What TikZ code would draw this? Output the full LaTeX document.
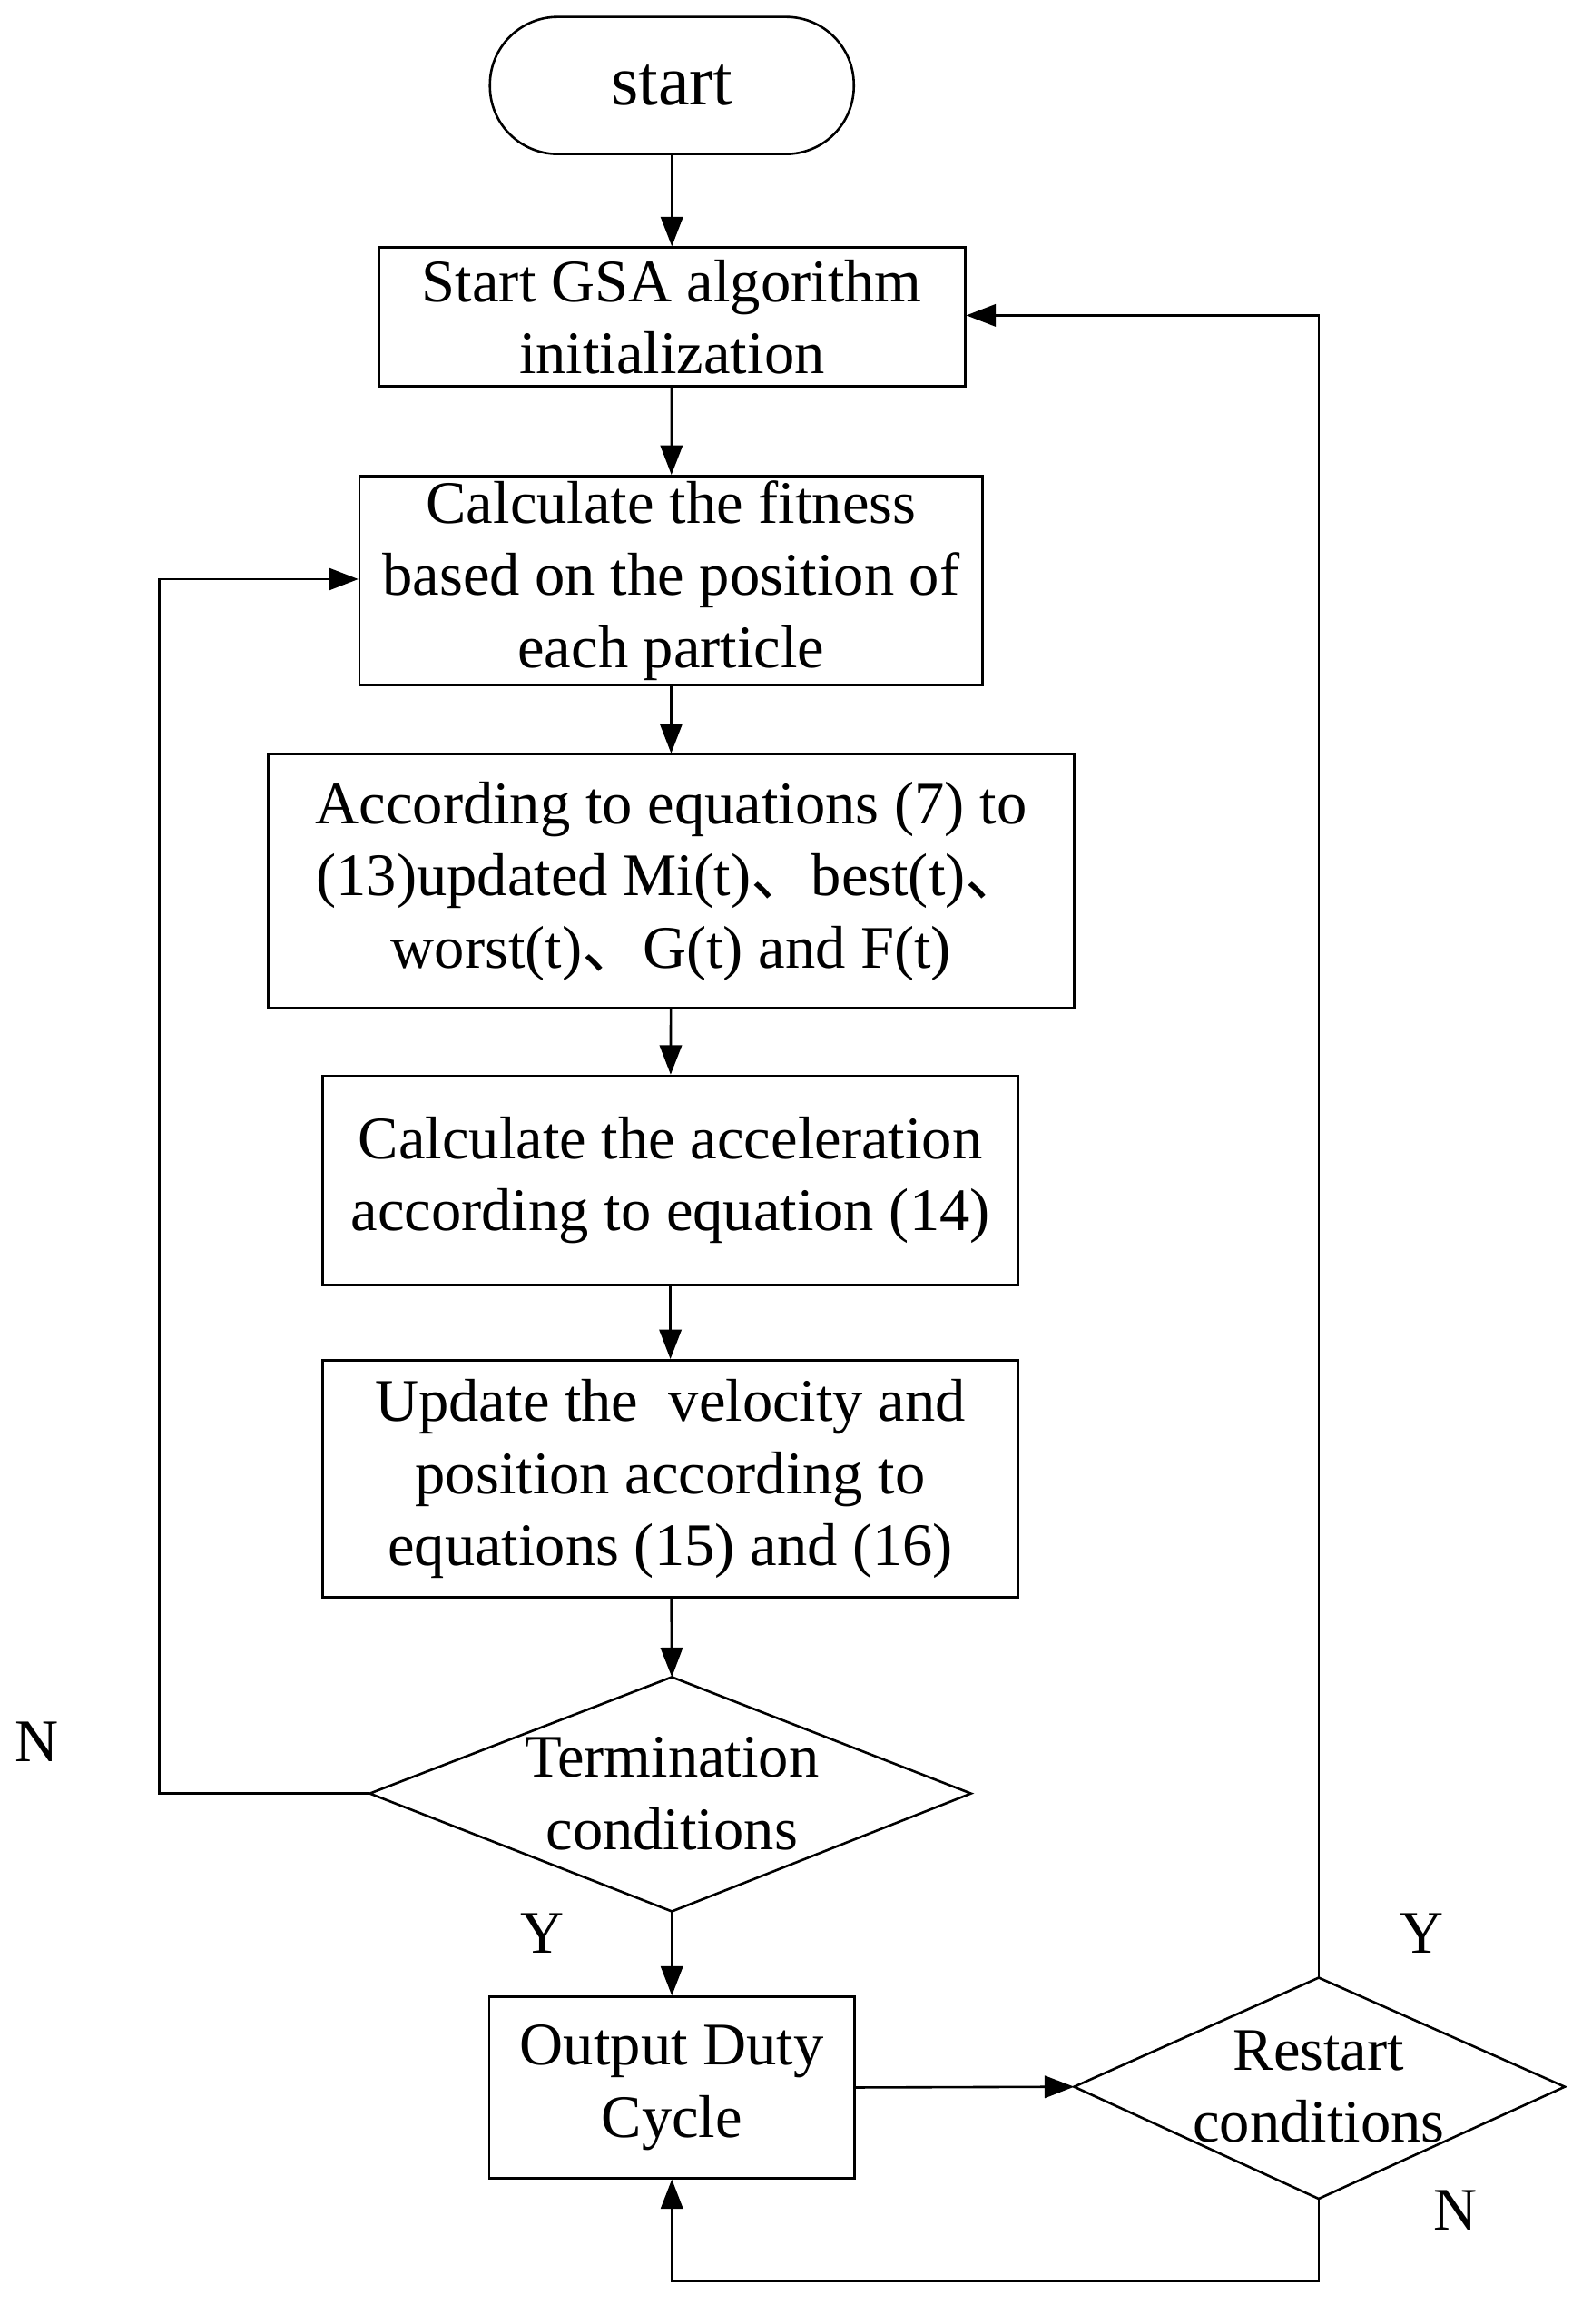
\documentclass[tikz,border=0pt]{standalone}
\usepackage{fontspec}
\setmainfont{Liberation Serif}
\newfontfamily\cjk{Noto Sans CJK SC}
\usetikzlibrary{shapes.geometric,arrows.meta}
\begin{document}
\begin{tikzpicture}[x=1pt,y=-1pt,
  every node/.style={font=\fontsize{41}{49}\selectfont, align=center},
  box/.style={draw, line width=1.6pt, inner sep=0pt},
  ln/.style={line width=1.6pt},
  arr/.style={ln, -{Triangle[length=20pt,width=15pt]}}]
\useasboundingbox (0,0) rectangle (1080,1577);
\node[box, rounded corners=46pt, minimum width=247pt, minimum height=93pt, font=\fontsize{48}{50}\selectfont] (s) at (456,58) {start};
\node[box, minimum width=398pt, minimum height=94pt] (b1) at (456,215) {Start GSA algorithm\\initialization};
\node[box, minimum width=423pt, minimum height=142pt] (b2) at (455.5,394) {Calculate the fitness\\based on the position of\\each particle};
\node[box, minimum width=547pt, minimum height=172pt] (b3) at (455.5,598) {According to equations (7) to\\(13)updated Mi(t){\cjk 、}best(t){\cjk 、}\\worst(t){\cjk 、}G(t) and F(t)};
\node[box, minimum width=472pt, minimum height=142pt] (b4) at (455,801) {Calculate the acceleration\\according to equation (14)};
\node[box, minimum width=472pt, minimum height=161pt] (b5) at (455,1003.5) {Update the\ \ velocity and\\position according to\\equations (15) and (16)};
\draw[ln] (251,1217) -- (456,1138) -- (659,1217) -- (456,1297) -- cycle;
\node (d1) at (456,1217) {Termination\\conditions};
\coordinate (d1l) at (251,1217); \coordinate (d1t) at (456,1138); \coordinate (d1b) at (456,1297);
\node[box, minimum width=248pt, minimum height=123pt] (b6) at (456,1416.5) {Output Duty\\Cycle};
\draw[ln] (729,1416) -- (895,1342) -- (1062,1416) -- (895,1492) -- cycle;
\node (d2) at (895,1416) {Restart\\conditions};
\coordinate (d2l) at (729,1416); \coordinate (d2t) at (895,1342); \coordinate (d2b) at (895,1492);
\draw[arr] (s) -- (b1);
\draw[arr] (b1) -- (b2);
\draw[arr] (b2) -- (b3);
\draw[arr] (b3) -- (b4);
\draw[arr] (b4) -- (b5);
\draw[arr] (b5) -- (d1t);
\draw[arr] (d1b) -- (b6);
\draw[arr] (d1l) -- (108,1217) -- (108,393) -- (b2.west |- 0,393);
\draw[arr] (b6.east) -- (d2l);
\draw[arr] (d2t) -- (895,214) -- (b1.east |- 0,214);
\draw[arr] (d2b) -- (895,1548) -- (456,1548) -- (b6.south);
\node (n1) at (25,1182) {N};
\node (y1) at (368,1312) {Y};
\node (y2) at (965,1312) {Y};
\node (n2) at (988,1500) {N};
\end{tikzpicture}
\end{document}
